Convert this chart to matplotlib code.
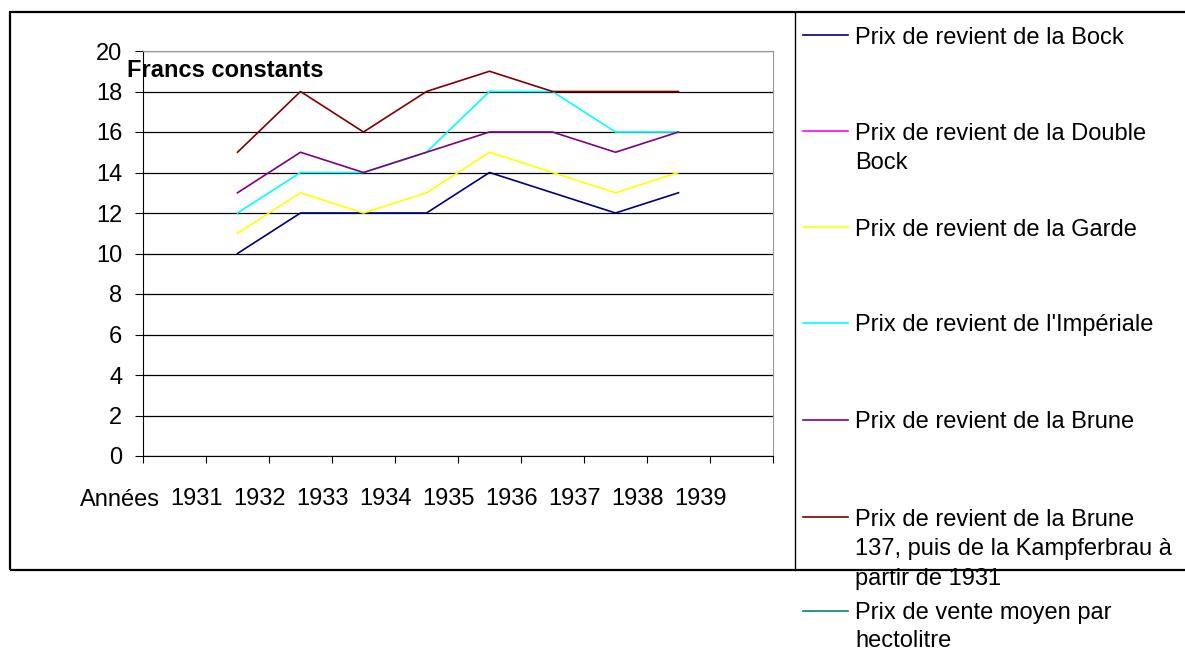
import matplotlib.pyplot as plt
from matplotlib.lines import Line2D
from matplotlib.patches import Rectangle

plt.rcParams['font.family'] = ['Liberation Sans', 'DejaVu Sans']

# données (francs constants)
annees = ['1931', '1932', '1933', '1934', '1935', '1936', '1937', '1938', '1939']
x_points = [1.5, 2.5, 3.5, 4.5, 5.5, 6.5, 7.5, 8.5]
bock = [10, 12, 12, 12, 14, 13, 12, 13]
double_bock = []
garde = [11, 13, 12, 13, 15, 14, 13, 14]
imperiale = [12, 14, 14, 15, 18, 18, 16, 16]
brune = [13, 15, 14, 15, 16, 16, 15, 16]
brune_137 = [15, 18, 16, 18, 19, 18, 18, 18]
prix_vente = []

series = [
    ("Prix de revient de la Bock", bock, '#000080'),
    ("Prix de revient de la Double\nBock", double_bock, '#FF00FF'),
    ("Prix de revient de la Garde", garde, '#FFFF00'),
    ("Prix de revient de l'Impériale", imperiale, '#00FFFF'),
    ("Prix de revient de la Brune", brune, '#800080'),
    ("Prix de revient de la Brune\n137, puis de la Kampferbrau à\npartir de 1931", brune_137, '#800000'),
    ("Prix de vente moyen par\nhectolitre", prix_vente, '#008080'),
]

W, H = 1185, 653
fs = 17
fig = plt.figure(figsize=(W / 100, H / 100), dpi=100)

# cadre du graphique
fig.patches.append(Rectangle((10 / W, 1 - 570 / H), (1200 - 10) / W, (570 - 12) / H,
                             transform=fig.transFigure, fill=False, lw=1.6,
                             edgecolor='black', clip_on=False))
fig.lines.append(Line2D([795 / W, 795 / W], [1 - 570 / H, 1 - 12 / H],
                        transform=fig.transFigure, color='black', lw=1))

ax = fig.add_axes([143 / W, 1 - 456 / H, 630 / W, 405 / H])
for nom, vals, couleur in series:
    if vals:
        ax.plot(x_points[:len(vals)], vals, color=couleur, lw=1.2)

ax.set_xlim(0, 10)
ax.set_ylim(0, 20)
ax.set_yticks(range(0, 21, 2))
ax.yaxis.grid(True, color='black', lw=0.9)
ax.set_axisbelow(True)
ax.tick_params(axis='y', direction='out', length=6, width=0.8, pad=9, labelsize=fs)
ax.set_xticks(range(0, 11))
ax.set_xticklabels([])
ax.tick_params(axis='x', direction='out', length=5, width=0.8)
ax.set_xticks([i - 0.15 for i in range(1, 10)], minor=True)
ax.set_xticklabels(annees, minor=True, fontsize=fs)
ax.tick_params(axis='x', which='minor', length=0, pad=23)
ax.text(0.27, -0.108, 'Années', ha='right', va='center', fontsize=fs,
        transform=ax.get_xaxis_transform())
ax.text(-0.25, 19.05, 'Francs constants', fontsize=fs, fontweight='bold', va='center')

for s in ['top', 'right']:
    ax.spines[s].set_color('#999999')
for s in ['left', 'bottom']:
    ax.spines[s].set_color('black')

# légende
y_pos = [35, 131, 227, 323, 420, 517, 611]
for (nom, vals, couleur), y in zip(series, y_pos):
    fig.lines.append(Line2D([803 / W, 848 / W], [1 - y / H, 1 - y / H],
                            transform=fig.transFigure, color=couleur, lw=1.2))
    ls = 1.35 if nom.startswith('Prix de vente') else 1.47
    fig.text(855 / W, 1 - (y - 8.5) / H, nom, fontsize=fs, va='top', linespacing=ls)

fig.savefig('out.png', dpi=100)
